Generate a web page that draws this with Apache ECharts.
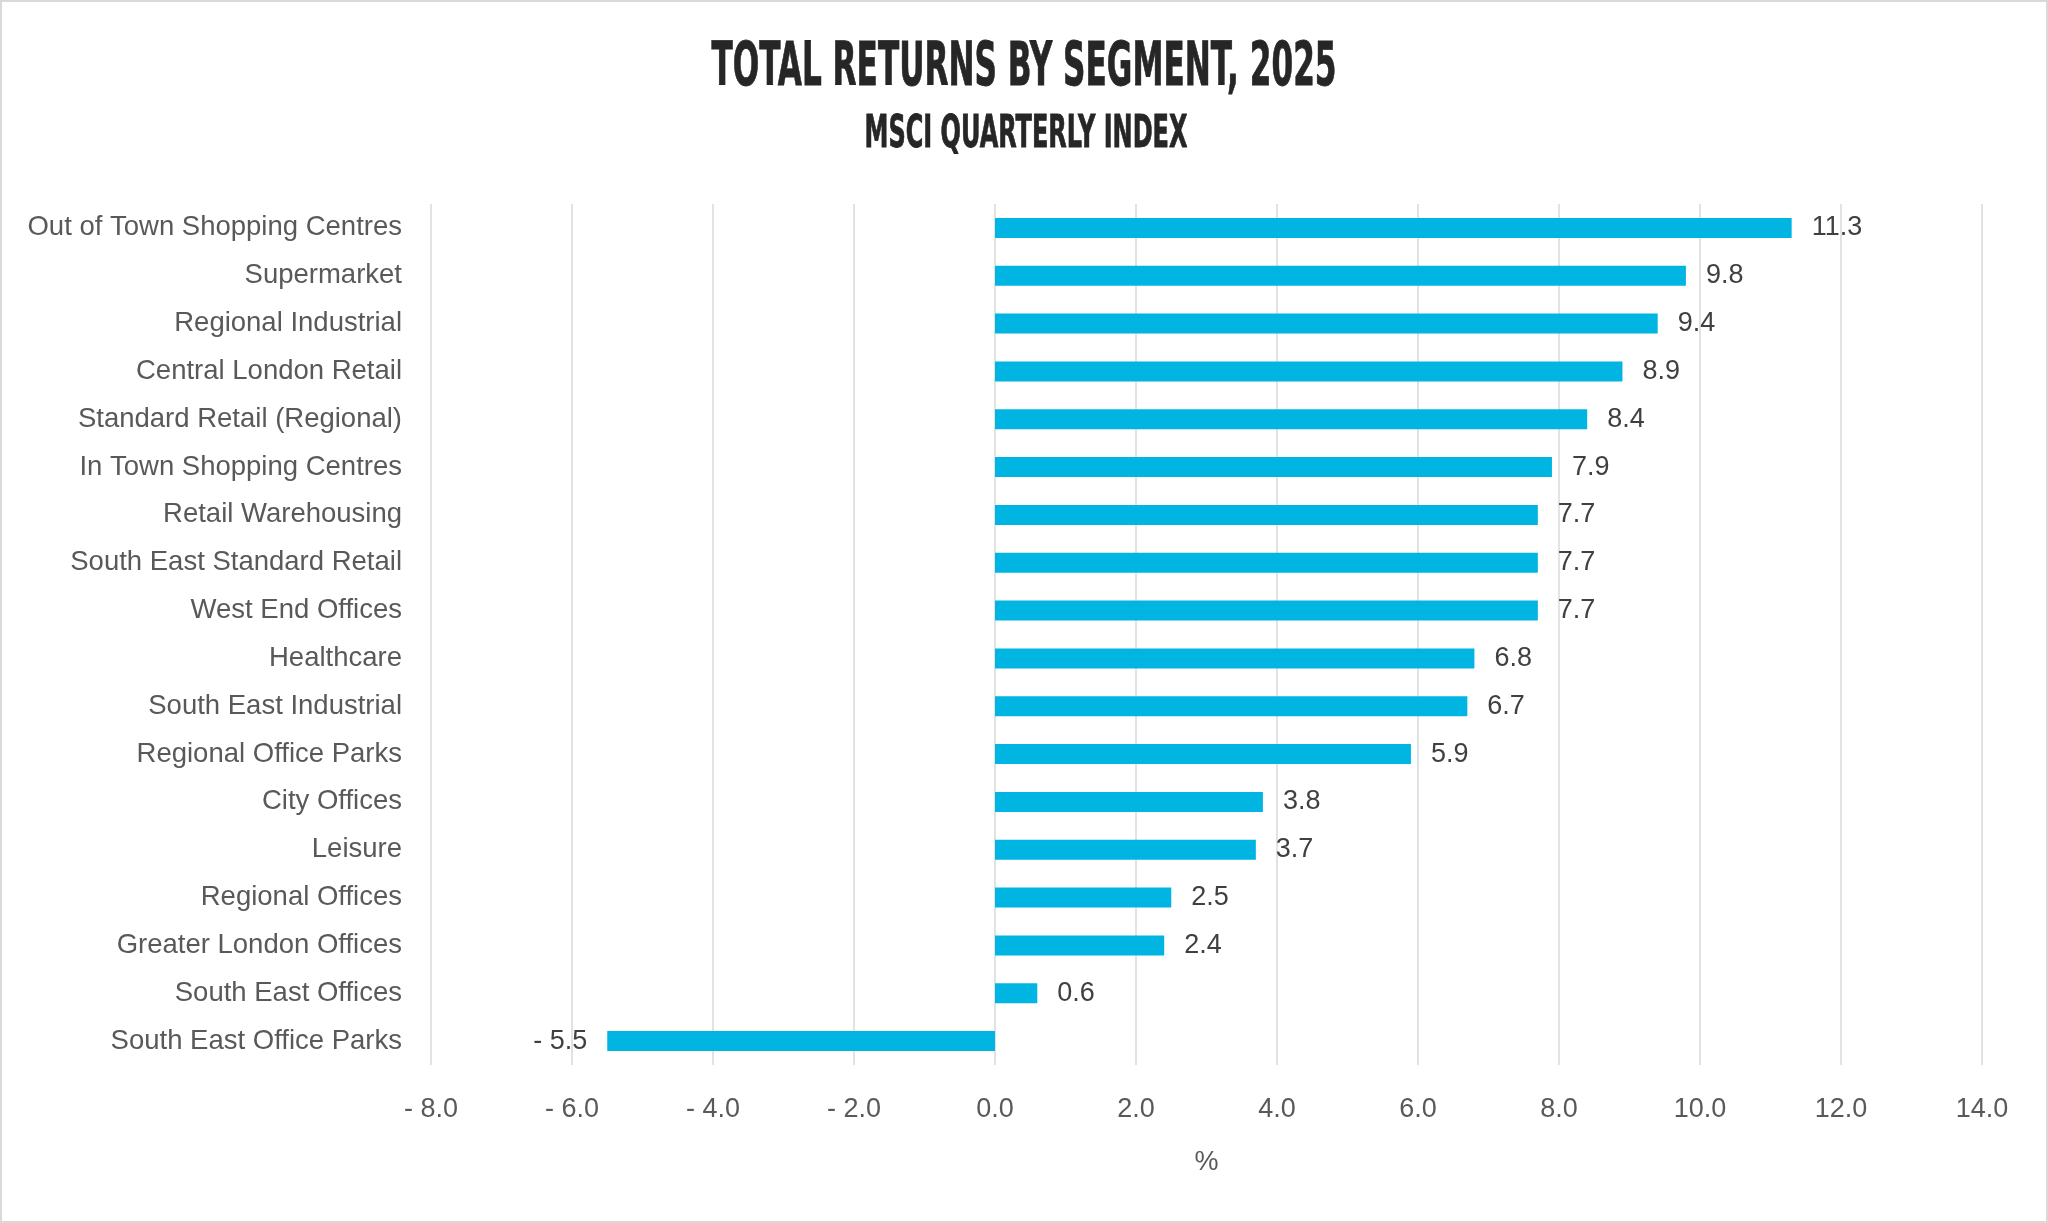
<!DOCTYPE html>
<html>
<head>
<meta charset="utf-8">
<script src="https://cdn.jsdelivr.net/npm/echarts@6/dist/echarts.min.js"></script>
<style>
  html, body { margin: 0; padding: 0; background: #fff; }
  #chart { width: 2048px; height: 1223px; box-sizing: border-box; border: 2px solid #d9d9d9; }
</style>
</head>
<body>
<div id="chart"></div>
<script>
const titleText = 'TOTAL RETURNS BY SEGMENT, 2025';
const subtitleText = 'MSCI QUARTERLY INDEX';
const axisName = '%';
const categories = [
  'Out of Town Shopping Centres', 'Supermarket', 'Regional Industrial', 'Central London Retail',
  'Standard Retail (Regional)', 'In Town Shopping Centres', 'Retail Warehousing', 'South East Standard Retail',
  'West End Offices', 'Healthcare', 'South East Industrial', 'Regional Office Parks',
  'City Offices', 'Leisure', 'Regional Offices', 'Greater London Offices',
  'South East Offices', 'South East Office Parks'
];
const values = [11.3, 9.8, 9.4, 8.9, 8.4, 7.9, 7.7, 7.7, 7.7, 6.8, 6.7, 5.9, 3.8, 3.7, 2.5, 2.4, 0.6, -5.5];
const axisMin = -8, axisMax = 14, axisStep = 2;

function fmt(v) {
  return v < 0 ? '- ' + Math.abs(v).toFixed(1) : v.toFixed(1);
}

const titleFontFamily = '"Liberation Sans Narrow", "DejaVu Sans Condensed", "Liberation Sans", sans-serif';
function measure(text, font) {
  const c = document.createElement('canvas').getContext('2d');
  c.font = font;
  return c.measureText(text).width;
}
function condensedText(text, size, targetWidth, cx, cy) {
  const font = 'bold ' + size + 'px ' + titleFontFamily;
  const w = measure(text, font);
  return {
    type: 'text', x: cx, y: cy, scaleX: targetWidth / w, scaleY: 1, z: 10,
    style: { text: text, x: 0, y: 0, align: 'center', verticalAlign: 'middle',
      font: font, fill: '#262626', stroke: '#262626', lineWidth: 0.8 }
  };
}

const chart = echarts.init(document.getElementById('chart'), null, { renderer: 'canvas' });
const barData = values.map(v => ({
  value: v,
  label: { position: v < 0 ? 'left' : 'right' }
}));

chart.setOption({
  animation: false,
  backgroundColor: '#ffffff',
  graphic: [
    condensedText(titleText, 60, 625, 1022, 67),
    condensedText(subtitleText, 44, 323, 1024, 134)
  ],
  grid: { left: 429, right: 64, top: 202, bottom: 156, containLabel: false },
  xAxis: {
    type: 'value', min: axisMin, max: axisMax, interval: axisStep,
    name: axisName, nameLocation: 'middle', nameGap: 84,
    nameTextStyle: { color: '#595959', fontSize: 27, fontFamily: 'Liberation Sans' },
    axisLine: { show: false }, axisTick: { show: false },
    axisLabel: { formatter: fmt, color: '#595959', fontSize: 27, fontFamily: 'Liberation Sans', margin: 31 },
    splitLine: { show: true, lineStyle: { color: '#d9d9d9', width: 1.5 } }
  },
  yAxis: {
    type: 'category', data: categories, inverse: true, position: 'left',
    axisLine: { show: false, onZero: false }, axisTick: { show: false },
    axisLabel: { color: '#595959', fontSize: 27.5, fontFamily: 'Liberation Sans', margin: 29 },
    splitLine: { show: false }
  },
  series: [{
    type: 'bar', data: barData, barWidth: 20,
    itemStyle: { color: '#00B5E2' },
    label: { show: true, formatter: p => fmt(p.value), color: '#404040', fontSize: 27,
      fontFamily: 'Liberation Sans', distance: 20 }
  }]
});
</script>
</body>
</html>
